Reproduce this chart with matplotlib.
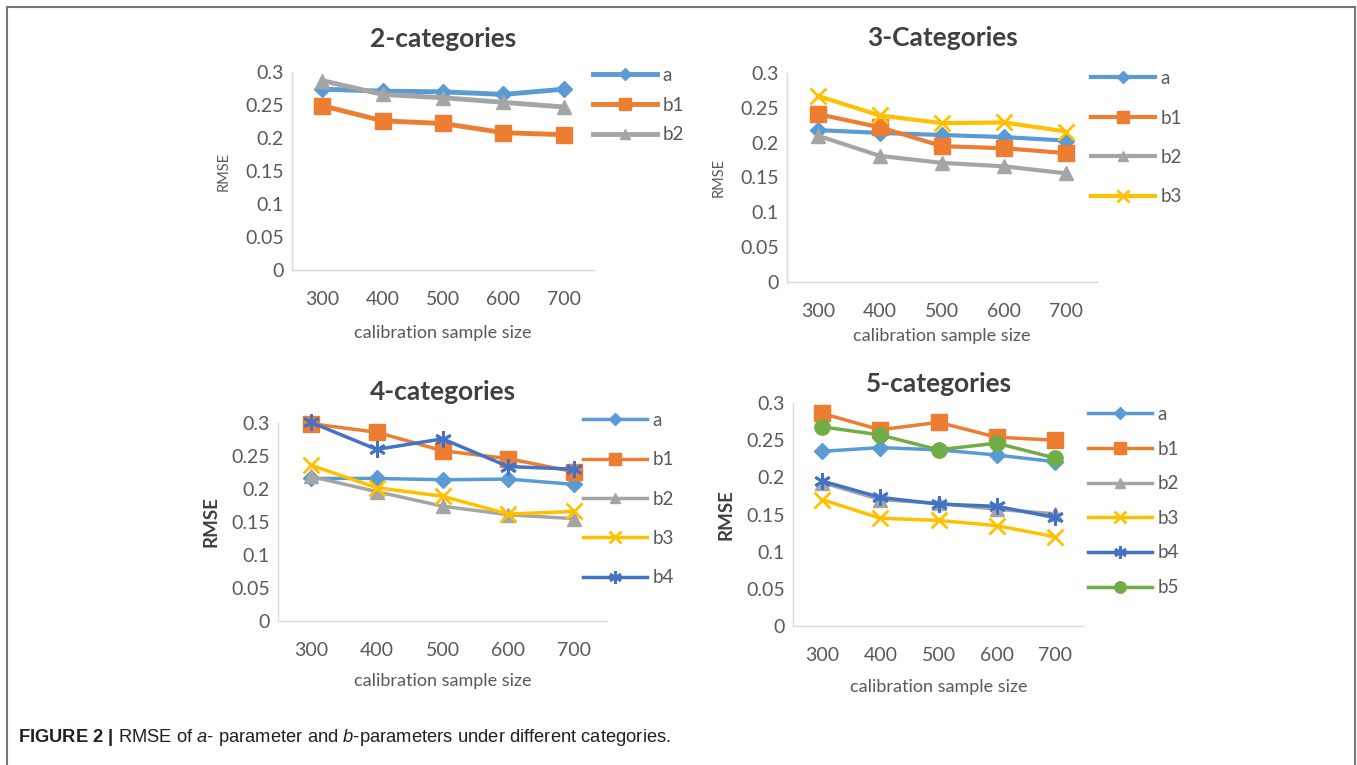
import matplotlib.pyplot as plt
from matplotlib.patches import Rectangle

plt.rcParams['font.family'] = ['Lato', 'DejaVu Sans']
plt.rcParams['mathtext.fontset'] = 'custom'
plt.rcParams['mathtext.rm'] = 'Liberation Sans'
plt.rcParams['mathtext.it'] = 'Liberation Sans:italic'
plt.rcParams['mathtext.bf'] = 'Liberation Sans:bold'

sizes = ['300', '400', '500', '600', '700']

# 2-categories
cat2_a = [0.274, 0.271, 0.270, 0.266, 0.274]
cat2_b1 = [0.249, 0.226, 0.222, 0.208, 0.205]
cat2_b2 = [0.287, 0.266, 0.261, 0.254, 0.247]

# 3-Categories
cat3_a = [0.218, 0.214, 0.211, 0.208, 0.203]
cat3_b1 = [0.241, 0.222, 0.195, 0.192, 0.185]
cat3_b2 = [0.210, 0.181, 0.171, 0.166, 0.156]
cat3_b3 = [0.267, 0.239, 0.228, 0.229, 0.216]

# 4-categories
cat4_a = [0.216, 0.216, 0.214, 0.215, 0.207]
cat4_b1 = [0.299, 0.286, 0.258, 0.246, 0.226]
cat4_b2 = [0.219, 0.196, 0.174, 0.161, 0.155]
cat4_b3 = [0.236, 0.202, 0.189, 0.162, 0.166]
cat4_b4 = [0.301, 0.260, 0.276, 0.234, 0.230]

# 5-categories
cat5_a = [0.235, 0.240, 0.237, 0.230, 0.221]
cat5_b1 = [0.286, 0.264, 0.274, 0.254, 0.250]
cat5_b2 = [0.193, 0.170, 0.165, 0.157, 0.151]
cat5_b3 = [0.170, 0.145, 0.142, 0.135, 0.120]
cat5_b4 = [0.195, 0.173, 0.164, 0.161, 0.146]
cat5_b5 = [0.268, 0.257, 0.237, 0.246, 0.226]

colors = {'a': '#5B9BD5', 'b1': '#ED7D31', 'b2': '#A5A5A5',
          'b3': '#FFC000', 'b4': '#4472C4', 'b5': '#70AD47'}
markers = {'a': 'D', 'b1': 's', 'b2': '^', 'b3': 'x', 'b4': (6, 2, 0), 'b5': 'o'}
msizes = {'a': 8, 'b1': 11, 'b2': 10, 'b3': 11, 'b4': 12, 'b5': 11}

W, H = 1357, 765
fig = plt.figure(figsize=(W / 100, H / 100), dpi=100)


def px_axes(x0, x1, ytop, ybot):
    return fig.add_axes([x0 / W, 1 - ybot / H, (x1 - x0) / W, (ybot - ytop) / H])


def draw_panel(ax, series, title, lw, ylab_bold, leg_xy, leg_space, title_y, xpad):
    for name, vals in series:
        ax.plot(range(len(sizes)), vals, color=colors[name], lw=lw,
                marker=markers[name], markersize=msizes[name],
                markeredgewidth=2 if name in ('b3', 'b4') else 1,
                markeredgecolor=colors[name], label=name, zorder=3,
                clip_on=False)
    ax.set_xlim(-0.5, 4.5)
    ax.set_ylim(0, 0.3)
    ax.set_yticks([0, 0.05, 0.1, 0.15, 0.2, 0.25, 0.3])
    ax.set_yticklabels(['0', '0.05', '0.1', '0.15', '0.2', '0.25', '0.3'])
    ax.set_xticks(range(len(sizes)))
    ax.set_xticklabels(sizes)
    ax.tick_params(length=0, labelsize=14, labelcolor='#595959')
    ax.tick_params(axis='x', pad=15)
    ax.tick_params(axis='y', pad=6)
    for s in ('top', 'right'):
        ax.spines[s].set_visible(False)
    for s in ('left', 'bottom'):
        ax.spines[s].set_color('#D9D9D9')
        ax.spines[s].set_linewidth(1)
    ax.set_xlabel('calibration sample size', fontsize=13, color='#595959', labelpad=xpad)
    if ylab_bold:
        ax.set_ylabel('RMSE', fontsize=13.5, color='#404040', fontweight='bold', labelpad=8)
    else:
        ax.set_ylabel('RMSE', fontsize=10.5, color='#595959', labelpad=10)
    ax.set_title(title, fontsize=19, fontweight='bold', color='#404040', y=title_y)
    ax.legend(loc='upper left', bbox_to_anchor=(leg_xy[0] / W, 1 - leg_xy[1] / H),
              bbox_transform=fig.transFigure, frameon=False, fontsize=13.5,
              handlelength=3.4, handletextpad=0.3, borderpad=0, borderaxespad=0,
              labelspacing=leg_space, markerscale=0.75, labelcolor='#595959')


ax1 = px_axes(292, 594, 72, 270)
draw_panel(ax1, [('a', cat2_a), ('b1', cat2_b1), ('b2', cat2_b2)],
           '2-categories', 3.5, False, (593, 67), 0.68, 1.085, 12)

ax2 = px_axes(787, 1097, 73, 282)
draw_panel(ax2, [('a', cat3_a), ('b1', cat3_b1), ('b2', cat3_b2), ('b3', cat3_b3)],
           '3-Categories', 3, False, (1091, 70), 1.2, 1.09, 6)

ax3 = px_axes(278, 607, 423, 621)
draw_panel(ax3, [('a', cat4_a), ('b1', cat4_b1), ('b2', cat4_b2),
                 ('b3', cat4_b3), ('b4', cat4_b4)],
           '4-categories', 2.5, True, (583, 412), 1.19, 1.075, 10)

ax4 = px_axes(793, 1084, 403, 626)
draw_panel(ax4, [('a', cat5_a), ('b1', cat5_b1), ('b2', cat5_b2),
                 ('b3', cat5_b3), ('b4', cat5_b4), ('b5', cat5_b5)],
           '5-categories', 2.5, True, (1088, 406), 0.94, 1.01, 11)

# outer frame
fig.patches.append(Rectangle((7 / W, -0.01), (1355 - 7) / W, 1.01 - 6.5 / H,
                             transform=fig.transFigure, fill=False,
                             edgecolor='#777777', lw=1.5))

fig.text(18 / W, 1 - 737 / H,
         r'$\bf{FIGURE\ 2\ |}$ RMSE of $\it{a}$- parameter and $\it{b}$-parameters under different categories.',
         fontsize=13.2, family='Liberation Sans', va='center', color='#231F20')

fig.savefig('out.png', dpi=100)
